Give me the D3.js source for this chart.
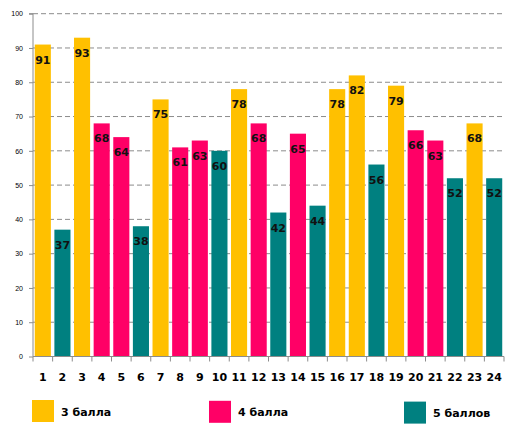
<!DOCTYPE html>
<html>
<head>
<meta charset="utf-8">
<script src="https://cdn.jsdelivr.net/npm/d3@7"></script>
<style>
  body { margin: 0; background: #fff; }
  svg { display: block; font-family: "DejaVu Sans", Verdana, sans-serif; }
</style>
</head>
<body>
<svg width="516" height="432"></svg>
<script>
// task numbers along the x axis
const categories = d3.range(1, 25).map(String);
// percent per task
const values = [91, 37, 93, 68, 64, 38, 75, 61, 63, 60, 78, 68, 42, 65, 44, 78, 82, 56, 79, 66, 63, 52, 68, 52];
// which group each bar belongs to
const groups = ['3', '5', '3', '4', '4', '5', '3', '4', '4', '5', '3', '4', '5', '4', '5', '3', '3', '5', '3', '4', '4', '5', '3', '5'];
const legendKeys = ['3', '4', '5'];
const legendLabels = ['3 балла', '4 балла', '5 баллов'];
const yTicks = d3.range(0, 101, 10);

const colors = { '3': '#FFC000', '4': '#FF0066', '5': '#008080' };

const svg = d3.select('svg');
const plotLeft = 33, plotRight = 504, plotTop = 13.7, plotBottom = 356.5;

let x = d3.scaleBand()
  .domain(categories)
  .range([plotLeft, plotRight])
  .paddingInner(0.18)
  .paddingOuter(0.09);

let y = d3.scaleLinear()
  .domain([0, 100])
  .range([plotBottom, plotTop]);

// dashed grid
svg.append('g')
  .selectAll('line')
  .data(yTicks.filter(d => d > 0))
  .enter().append('line')
  .attr('x1', plotLeft).attr('x2', plotRight)
  .attr('y1', d => y(d)).attr('y2', d => y(d))
  .attr('stroke', '#8c8c8c')
  .attr('stroke-dasharray', '5,3');

// y axis
let yAxis = svg.append('g')
  .attr('transform', `translate(${plotLeft},0)`)
  .call(d3.axisLeft(y).tickValues(yTicks).tickSize(4).tickPadding(6));
yAxis.select('.domain').attr('stroke', '#8c8c8c').attr('d', `M-4,${plotTop}H0V${plotBottom}`);
yAxis.selectAll('.tick line').attr('stroke', '#8c8c8c');
yAxis.selectAll('text').attr('font-size', 7).attr('fill', '#000');

// bars
let bar = svg.append('g')
  .selectAll('g')
  .data(values)
  .enter().append('g');

bar.append('rect')
  .attr('x', (d, i) => x(categories[i]))
  .attr('y', d => y(d))
  .attr('width', x.bandwidth())
  .attr('height', d => plotBottom - y(d))
  .attr('fill', (d, i) => colors[groups[i]]);

bar.append('text')
  .attr('x', (d, i) => x(categories[i]) + x.bandwidth() / 2)
  .attr('y', d => y(d) + 19)
  .attr('text-anchor', 'middle')
  .attr('font-size', 11)
  .attr('font-weight', 'bold')
  .attr('fill', '#111')
  .text(d => d);

// x axis with ticks at category boundaries
let xg = svg.append('g');
xg.append('path')
  .attr('d', `M${plotLeft},${plotBottom}H${plotRight}`)
  .attr('stroke', '#8c8c8c');
xg.selectAll('line')
  .data(d3.range(0, categories.length + 1))
  .enter().append('line')
  .attr('x1', i => plotLeft + i * (plotRight - plotLeft) / categories.length)
  .attr('x2', i => plotLeft + i * (plotRight - plotLeft) / categories.length)
  .attr('y1', plotBottom).attr('y2', plotBottom + 5)
  .attr('stroke', '#8c8c8c');
xg.selectAll('text')
  .data(categories)
  .enter().append('text')
  .attr('x', d => x(d) + x.bandwidth() / 2)
  .attr('y', 381)
  .attr('text-anchor', 'middle')
  .attr('font-size', 11)
  .attr('font-weight', 'bold')
  .text(d => d);

// legend
let legendX = [32, 209, 404];
let legend = svg.append('g')
  .selectAll('g')
  .data(legendKeys)
  .enter().append('g')
  .attr('transform', (d, i) => `translate(${legendX[i]},${400 + i * 0.8})`);

legend.append('rect')
  .attr('width', 22).attr('height', 22)
  .attr('fill', d => colors[d]);

legend.append('text')
  .attr('x', 29).attr('y', 15.5)
  .attr('font-size', 11)
  .attr('font-weight', 'bold')
  .text((d, i) => legendLabels[i]);
</script>
</body>
</html>
